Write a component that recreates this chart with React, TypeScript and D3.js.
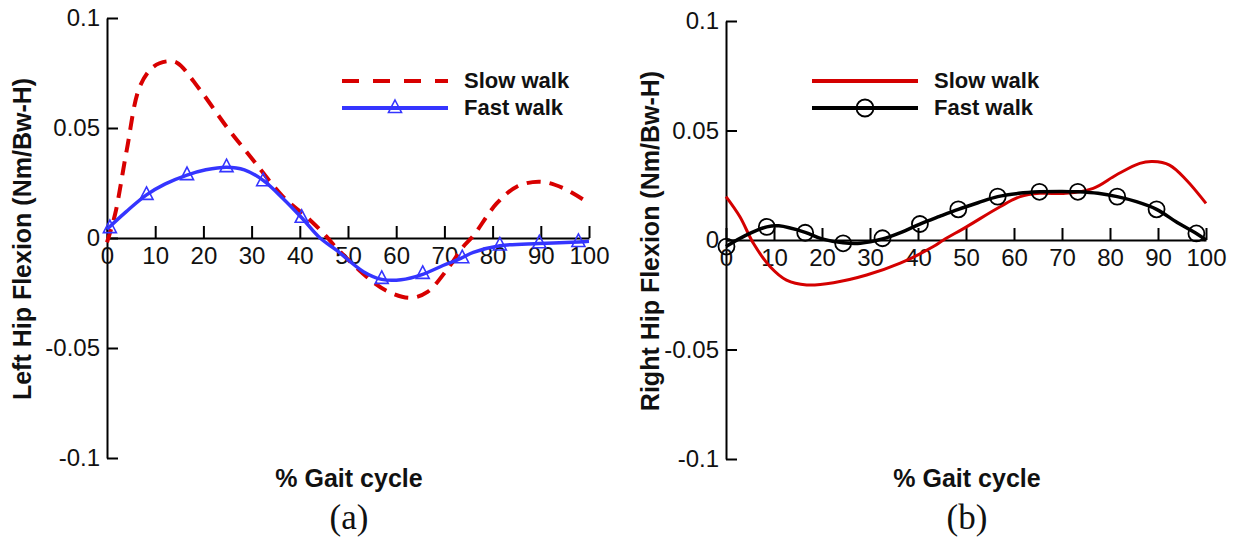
import * as d3 from "d3";
import { useEffect, useRef } from "react";

const FONT = "'Liberation Sans', Arial, Helvetica, sans-serif";

// axis ticks
const xTicks = [0, 10, 20, 30, 40, 50, 60, 70, 80, 90, 100];
const yTicks = [-0.1, -0.05, 0, 0.05, 0.1];
const yTickLabels = ["-0.1", "-0.05", "0", "0.05", "0.1"];

const seriesNames = ["Slow walk", "Fast walk"];

// (a) left hip, slow walk (dashed red)
const leftSlow: [number, number][] = [
  [0, -0.002], [1.7, 0.011], [4.1, 0.04], [6.8, 0.0688], [9.6, 0.0778],
  [12.4, 0.0803], [14.5, 0.0797], [19.3, 0.0673], [24.8, 0.0506], [30.3, 0.0355],
  [36.5, 0.0188], [42.1, 0.0082], [45.6, 0.0005], [47.6, -0.0045], [54.6, -0.019],
  [58.5, -0.0245], [63, -0.0272], [66.5, -0.0245], [70.5, -0.0145], [73.9, -0.004],
  [76, 0.001], [80.8, 0.0156], [85, 0.0233], [89.8, 0.0256], [94.6, 0.0227], [100, 0.0158],
];

// (a) left hip, fast walk (blue with triangles)
const leftFast: [number, number][] = [
  [0, 0.004], [4, 0.012], [8.2, 0.0196], [12, 0.0245], [16.6, 0.0286], [20.5, 0.031],
  [24.8, 0.0322], [28.5, 0.031], [32.4, 0.0262], [36.5, 0.018], [40.4, 0.0092],
  [44.2, 0], [47.6, -0.0055], [53.2, -0.0153], [57, -0.0188], [61, -0.019],
  [65.5, -0.0165], [69.7, -0.0125], [73.4, -0.0093], [76, -0.0065], [81.5, -0.0035],
  [89.7, -0.0025], [97.8, -0.0018], [100, -0.0015],
];
const leftFastMarks: [number, number][] = [
  [0.6, 0.0045], [8.2, 0.0196], [16.6, 0.0286], [24.8, 0.0322], [32.4, 0.0258],
  [40.4, 0.0092], [57, -0.0186], [65.5, -0.0163], [73.7, -0.0092], [81.5, -0.0034],
  [89.7, -0.0024], [97.8, -0.0018],
];

// (b) right hip, slow walk (solid red)
const rightSlow: [number, number][] = [
  [0, 0.0198], [2.9, 0.0106], [5.7, -0.0015], [9.2, -0.0122], [12.6, -0.0183],
  [16.8, -0.0205], [22.4, -0.0195], [29.3, -0.016], [36.3, -0.0106], [43.2, -0.003],
  [45.3, 0], [50.1, 0.006], [57.1, 0.0152], [61.3, 0.0198], [65.4, 0.0213],
  [70.8, 0.0213], [76.5, 0.0236], [81.3, 0.0297], [86.2, 0.035], [88.9, 0.0358],
  [92.4, 0.0342], [95.9, 0.0274], [100, 0.0167],
];

// (b) right hip, fast walk (black with circles)
const rightFast: [number, number][] = [
  [0, -0.003], [4, 0.002], [8.5, 0.006], [11, 0.0065], [16.5, 0.0035], [20, 0.0005],
  [24.4, -0.0013], [28, -0.0015], [32.6, 0.0005], [36.5, 0.0035], [40.4, 0.0073],
  [44.5, 0.0108], [48.4, 0.014], [52.5, 0.017], [56.6, 0.0198], [61, 0.0213],
  [65.3, 0.022], [70, 0.0222], [73.3, 0.022], [77.5, 0.0213], [81.5, 0.0198],
  [85.5, 0.0175], [89.7, 0.014], [94, 0.008], [98, 0.003], [100, 0],
];
const rightFastMarks: [number, number][] = [
  [0.1, -0.003], [8.5, 0.006], [16.5, 0.0033], [24.4, -0.0015], [32.6, 0.0008],
  [40.4, 0.0073], [48.4, 0.014], [56.6, 0.0198], [65.3, 0.022], [73.3, 0.022],
  [81.5, 0.0198], [89.7, 0.014], [98, 0.003],
];

type Panel = {
  label: string;
  yTitle: string;
  xRange: [number, number];
  yRange: [number, number];
  yTitleX: number;
  slow: [number, number][];
  fast: [number, number][];
  fastMarks: [number, number][];
  slowColor: string;
  slowDash: string | null;
  slowWidth: number;
  fastColor: string;
  marker: "triangle" | "circle";
  legendX: number;
};

const panels: Panel[] = [
  {
    label: "(a)",
    yTitle: "Left Hip Flexion (Nm/Bw-H)",
    xRange: [107, 589],
    yRange: [458, 18],
    yTitleX: 31,
    slow: leftSlow,
    fast: leftFast,
    fastMarks: leftFastMarks,
    slowColor: "#d80000",
    slowDash: "14,9",
    slowWidth: 4,
    fastColor: "#3535ff",
    marker: "triangle",
    legendX: 342,
  },
  {
    label: "(b)",
    yTitle: "Right Hip Flexion (Nm/Bw-H)",
    xRange: [726, 1206],
    yRange: [459, 21],
    yTitleX: 659,
    slow: rightSlow,
    fast: rightFast,
    fastMarks: rightFastMarks,
    slowColor: "#d40000",
    slowDash: null,
    slowWidth: 3,
    fastColor: "#000000",
    marker: "circle",
    legendX: 812,
  },
];

const triangle = "M0,-8L6.5,4.5L-6.5,4.5Z";

export default function App() {
  const svgRef = useRef<SVGSVGElement>(null);

  useEffect(() => {
    const svg = d3.select(svgRef.current);
    svg.selectAll("*").remove();

    panels.forEach((p) => {
      const x = d3.scaleLinear().domain([0, 100]).range(p.xRange);
      const y = d3.scaleLinear().domain([-0.1, 0.1]).range(p.yRange);
      const g = svg.append("g");

      // y axis, ticks pointing inward
      g.append("g")
        .attr("transform", `translate(${p.xRange[0]},0)`)
        .call(
          d3.axisLeft(y)
            .tickValues(yTicks)
            .tickFormat((d, i) => yTickLabels[i])
            .tickSizeInner(-11)
            .tickSizeOuter(0)
            .tickPadding(7)
        )
        .attr("font-size", 24)
        .attr("font-family", FONT)
        .call((ax) => {
          ax.select(".domain").attr("stroke-width", 2);
          ax.selectAll(".tick line").attr("stroke-width", 2);
          ax.selectAll(".tick text").attr("fill", "#111");
        });

      // x axis along zero
      g.append("g")
        .attr("transform", `translate(0,${y(0)})`)
        .call(
          d3.axisBottom(x)
            .tickValues(xTicks)
            .tickFormat(d3.format("d"))
            .tickSizeInner(-12)
            .tickSizeOuter(0)
            .tickPadding(9)
        )
        .attr("font-size", 24)
        .attr("font-family", FONT)
        .call((ax) => {
          ax.select(".domain").attr("stroke-width", 2);
          ax.selectAll(".tick line").attr("stroke-width", 2);
          ax.selectAll(".tick text").attr("fill", "#111");
        });

      // axis titles
      g.append("text")
        .attr("transform", `translate(${p.yTitleX},${(p.yRange[0] + p.yRange[1]) / 2 + 1}) rotate(-90)`)
        .attr("text-anchor", "middle")
        .attr("font-family", FONT)
        .attr("font-weight", "bold")
        .attr("font-size", 25)
        .attr("fill", "#111")
        .text(p.yTitle);

      g.append("text")
        .attr("x", (p.xRange[0] + p.xRange[1]) / 2 + 1)
        .attr("y", 487)
        .attr("text-anchor", "middle")
        .attr("font-family", FONT)
        .attr("font-weight", "bold")
        .attr("font-size", 25)
        .attr("fill", "#111")
        .text("% Gait cycle");

      g.append("text")
        .attr("x", (p.xRange[0] + p.xRange[1]) / 2 + 1)
        .attr("y", 529)
        .attr("text-anchor", "middle")
        .attr("font-family", "'Liberation Serif', 'Times New Roman', serif")
        .attr("font-size", 35)
        .attr("fill", "#111")
        .text(p.label);

      const line = d3.line<[number, number]>()
        .x((d) => x(d[0]))
        .y((d) => y(d[1]))
        .curve(d3.curveCatmullRom.alpha(0.5));

      // slow walk
      g.append("path")
        .attr("d", line(p.slow))
        .attr("fill", "none")
        .attr("stroke", p.slowColor)
        .attr("stroke-width", p.slowWidth)
        .attr("stroke-dasharray", p.slowDash)
        .attr("stroke-linejoin", "round");

      // fast walk
      g.append("path")
        .attr("d", line(p.fast))
        .attr("fill", "none")
        .attr("stroke", p.fastColor)
        .attr("stroke-width", 3.5)
        .attr("stroke-linejoin", "round");

      const drawMarker = (sel: any, cx: number, cy: number, r: number) => {
        if (p.marker === "triangle") {
          sel.append("path")
            .attr("d", triangle)
            .attr("transform", `translate(${cx},${cy})`)
            .attr("fill", "none")
            .attr("stroke", p.fastColor)
            .attr("stroke-width", 1.6);
        } else {
          sel.append("circle")
            .attr("cx", cx)
            .attr("cy", cy)
            .attr("r", r)
            .attr("fill", "none")
            .attr("stroke", p.fastColor)
            .attr("stroke-width", 1.8);
        }
      };

      const marks = g.append("g");
      p.fastMarks.forEach((d) => drawMarker(marks, x(d[0]), y(d[1]), 8));

      // legend
      const lg = g.append("g").attr("transform", `translate(${p.legendX},0)`);
      const rows = [81, 108];
      lg.append("line")
        .attr("x1", 0).attr("x2", 106)
        .attr("y1", rows[0]).attr("y2", rows[0])
        .attr("stroke", p.slowColor)
        .attr("stroke-width", 4)
        .attr("stroke-dasharray", p.slowDash ? "17,14" : null);
      lg.append("line")
        .attr("x1", 0).attr("x2", 106)
        .attr("y1", rows[1]).attr("y2", rows[1])
        .attr("stroke", p.fastColor)
        .attr("stroke-width", 4);
      drawMarker(lg, 53, rows[1], 8.5);
      seriesNames.forEach((name, i) => {
        lg.append("text")
          .attr("x", 122)
          .attr("y", rows[i] + 7)
          .attr("font-family", FONT)
          .attr("font-weight", "bold")
          .attr("font-size", 22)
          .attr("fill", "#111")
          .text(name);
      });
    });
  }, []);

  return (
    <svg
      ref={svgRef}
      width={1233}
      height={541}
      style={{ position: "absolute", left: 0, top: 0, background: "white" }}
    />
  );
}
